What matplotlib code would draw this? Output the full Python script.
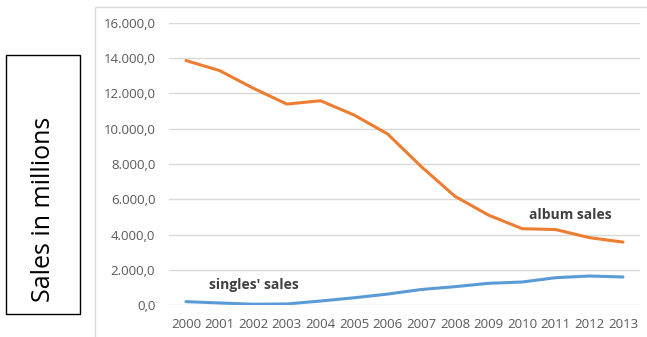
import matplotlib
matplotlib.use("Agg")
import matplotlib.pyplot as plt
from matplotlib.patches import Rectangle
from matplotlib.ticker import FuncFormatter, MultipleLocator

years = ["2000", "2001", "2002", "2003", "2004", "2005", "2006",
         "2007", "2008", "2009", "2010", "2011", "2012", "2013"]
album_sales = [13870, 13300, 12300, 11400, 11590, 10780, 9700,
               7850, 6170, 5100, 4330, 4280, 3820, 3570]
singles_sales = [190, 115, 45, 60, 225, 410, 620,
                 880, 1040, 1230, 1305, 1550, 1645, 1590]

W, H = 647, 337
fig = plt.figure(figsize=(W / 100, H / 100), dpi=100)
fig.patch.set_facecolor("white")

# chart area frame
fig.patches.append(Rectangle((95 / W, -0.1), 1.0, 1 - 7 / H + 0.1,
                             transform=fig.transFigure, fill=False,
                             edgecolor="#D9D9D9", linewidth=1.0))

# boxed axis title at the left
fig.patches.append(Rectangle((6 / W, 1 - 314 / H), 74 / W, 259 / H,
                             transform=fig.transFigure, fill=False,
                             edgecolor="black", linewidth=1.0))
fig.text(44 / W, 1 - 209 / H, "Sales in millions", rotation=90,
         ha="center", va="center", fontsize=18, family="Open Sans",
         color="black")

ax = fig.add_axes([169.2 / W, 1 - 305 / H, 470.6 / W, 282 / H])
x = list(range(len(years)))
ax.plot(x, album_sales, color="#ED7D31", linewidth=2.2,
        solid_joinstyle="round", solid_capstyle="round")
ax.plot(x, singles_sales, color="#5B9BD5", linewidth=2.2,
        solid_joinstyle="round", solid_capstyle="round")

ax.set_xlim(-0.5, len(years) - 0.5)
ax.set_ylim(0, 16000)
ax.yaxis.set_major_locator(MultipleLocator(2000))
ax.set_xticks(x)
ax.set_xticklabels(years)


def euro_fmt(v, pos):
    s = f"{v:,.1f}"
    return s.replace(",", "X").replace(".", ",").replace("X", ".")


ax.yaxis.set_major_formatter(FuncFormatter(euro_fmt))
ax.grid(axis="y", color="#D9D9D9", linewidth=1.0)
ax.set_axisbelow(True)
for s in ax.spines.values():
    s.set_visible(False)
ax.tick_params(axis="both", length=0, labelsize=9.5, labelcolor="#595959")
ax.tick_params(axis="y", pad=10)
ax.tick_params(axis="x", pad=9)
for lab in ax.get_xticklabels() + ax.get_yticklabels():
    lab.set_family("Open Sans")

ax.text(0.69, 1135, "singles' sales", ha="left", va="center",
        fontsize=10, fontweight="bold", family="Open Sans", color="#404040")
ax.text(10.21, 5106, "album sales", ha="left", va="center",
        fontsize=10, fontweight="bold", family="Open Sans", color="#404040")

fig.savefig("out.png", dpi=100)
